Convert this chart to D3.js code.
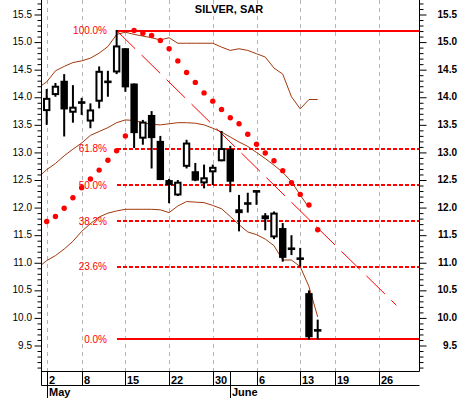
<!DOCTYPE html>
<html><head><meta charset="utf-8">
<script src="https://cdn.jsdelivr.net/npm/d3@7"></script>
<style>body{margin:0;background:#fff}svg{display:block}</style>
</head><body>
<script>
// ---- data ----
const days = ["May 2","May 3","May 4","May 5","May 8","May 9","May 10","May 11","May 12","May 15","May 16","May 17","May 18","May 19","May 22","May 23","May 24","May 25","May 26","May 30","May 31","Jun 1","Jun 2","Jun 5","Jun 6","Jun 7","Jun 8","Jun 9","Jun 12","Jun 13","Jun 14","Jun 15"];
const open  = [13.74,14.03,14.29,13.71,13.90,13.55,13.91,14.27,14.44,14.88,14.24,13.24,13.67,13.20,12.49,12.21,12.73,12.65,12.43,12.63,12.83,13.05,11.96,12.07,12.29,11.78,11.45,11.62,11.25,11.07,10.44,9.77];
const high  = [14.14,14.25,14.41,14.21,13.98,13.88,14.55,14.47,15.21,14.88,14.24,13.58,13.74,13.29,12.51,12.49,13.22,12.80,12.77,12.77,13.38,13.11,12.22,12.26,12.29,11.89,11.92,11.71,11.49,11.26,10.49,9.96];
const low   = [13.49,14.00,13.28,13.53,13.67,13.43,13.79,14.00,14.41,14.09,13.07,13.13,12.70,12.49,12.07,12.20,12.70,12.47,12.34,12.40,12.83,12.27,11.56,11.90,12.04,11.58,11.42,11.01,11.13,10.92,9.60,9.60];
const close = [13.98,14.20,13.77,13.82,13.89,13.77,14.47,14.27,14.93,14.17,13.34,13.55,13.25,12.49,12.40,12.46,13.17,12.48,12.54,12.73,13.07,12.46,11.89,12.06,12.28,11.85,11.90,11.08,11.24,11.06,9.64,9.76];
const sar   = [11.74,11.83,11.98,12.17,12.35,12.51,12.67,12.85,13.02,13.29,15.20,15.15,15.11,15.02,14.87,14.65,14.44,14.26,14.07,13.92,13.77,13.62,13.51,13.32,13.14,12.98,12.84,12.66,12.44,12.23,12.04,11.59];
// Bollinger bands, first value is the session before May 2 (index -1)
const bandUpper  = [14.16,14.27,14.47,14.55,14.62,14.65,14.70,14.79,14.91,15.13,15.17,15.13,15.10,15.07,15.03,15.07,14.97,14.97,14.97,14.97,14.97,14.90,14.84,14.87,14.84,14.78,14.72,14.52,14.41,14.00,13.78,13.95,13.95];
const bandMiddle = [12.53,12.68,12.79,12.93,13.05,13.16,13.30,13.37,13.44,13.53,13.58,13.57,13.53,13.50,13.49,13.51,13.53,13.53,13.52,13.49,13.43,13.36,13.27,13.18,13.10,12.99,12.88,12.76,12.63,12.46,12.22,11.99];
const bandLower  = [10.90,11.03,11.12,11.24,11.38,11.56,11.70,11.82,11.89,11.93,11.96,11.96,11.96,11.96,11.95,11.90,12.02,12.10,12.09,12.08,12.03,11.97,11.83,11.68,11.55,11.50,11.42,11.30,11.04,11.04,10.92,10.56,10.01];
const fibValues = [15.2, 13.06, 12.4, 11.74, 10.92, 9.6];
const fibLabels = ["100.0%","61.8%","50.0%","38.2%","23.6%","0.0%"];
const fibDashed = [false,true,true,true,true,false];
const fibStart = 8;
const trendIdx = [8, 40];
const trendVal = [15.2, 10.22];
const tickIdx = [0,4,9,14,19,24,29,33,38];
const tickLabels = ["2","8","15","22","30","6","13","19","26"];
const monthIdx = [0, 21];
const monthLabels = ["May","June"];
const majorTicks = [9.5,10,10.5,11,11.5,12,12.5,13,13.5,14,14.5,15,15.5];
const majorLabels = ["9.5","10.0","10.5","11.0","11.5","12.0","12.5","13.0","13.5","14.0","14.5","15.0","15.5"];
const title = "SILVER, SAR";

// ---- layout ----
const W = 460, H = 398;
const L = 41.5, R = 419.5, T = 0, B = 371.5, B2 = 385.5;
const RED = "#ff0000", BROWN = "#a0380c";

const x = d3.scaleLinear().domain([0, 31]).range([46.7, 317.7]);
const y = d3.scaleLinear().domain([9.5, 15.5]).range([345, 14]);
const px = v => Math.round(v) + 0.5;

const svg = d3.select("body").append("svg").attr("width", W).attr("height", H)
  .style("font-family", "'Liberation Sans', Arial, sans-serif");

svg.append("defs").append("clipPath").attr("id", "plot")
  .append("rect").attr("x", L).attr("y", T).attr("width", R - L).attr("height", B - T);

// grid
svg.append("g").selectAll("line").data(tickIdx).join("line")
  .attr("x1", d => px(x(d))).attr("x2", d => px(x(d)))
  .attr("y1", T).attr("y2", B)
  .attr("stroke", "#b4b4b4").attr("stroke-dasharray", "4,4");

const plot = svg.append("g").attr("clip-path", "url(#plot)");

// bands
const bandLine = d3.line().x((d, i) => x(i - 1)).y(d => y(d));
[bandUpper, bandMiddle, bandLower].forEach(b => {
  plot.append("path").datum(b).attr("d", bandLine)
    .attr("fill", "none").attr("stroke", BROWN).attr("stroke-width", 1);
});

// fib lines
plot.append("g").selectAll("line").data(fibValues).join("line")
  .attr("x1", x(fibStart)).attr("x2", R)
  .attr("y1", d => Math.round(y(d))).attr("y2", d => Math.round(y(d)))
  .attr("stroke", RED)
  .attr("stroke-width", 2)
  .attr("shape-rendering", "crispEdges")
  .attr("stroke-dasharray", (d, i) => fibDashed[i] ? "4,2" : null);

svg.append("g").selectAll("text").data(fibValues).join("text")
  .attr("x", 107).attr("y", d => y(d) + 3.5)
  .attr("text-anchor", "end").attr("fill", RED)
  .style("font-size", "10px")
  .text((d, i) => fibLabels[i]);

// trend line
plot.append("line")
  .attr("x1", x(trendIdx[0])).attr("y1", y(trendVal[0]))
  .attr("x2", x(trendIdx[1])).attr("y2", y(trendVal[1]))
  .attr("stroke", RED).attr("stroke-width", 1).attr("stroke-dasharray", "26,9");

// SAR dots
plot.append("g").selectAll("circle").data(sar).join("circle")
  .attr("cx", (d, i) => x(i)).attr("cy", d => y(d)).attr("r", 2.7)
  .attr("fill", RED);

// candles
const cg = plot.append("g");
days.forEach((dd, i) => {
  const cx = x(i);
  const g = cg.append("g");
  g.append("rect").attr("x", cx - 1).attr("width", 2)
    .attr("y", y(high[i])).attr("height", Math.max(1, y(low[i]) - y(high[i])))
    .attr("fill", "#000");
  const top = y(Math.max(open[i], close[i])), bot = y(Math.min(open[i], close[i]));
  if (bot - top < 3) {
    g.append("rect").attr("x", cx - 3.7).attr("width", 7.4)
      .attr("y", (top + bot) / 2 - 1.3).attr("height", 2.6).attr("fill", "#000");
  } else if (close[i] > open[i]) {
    g.append("rect").attr("x", cx - 2.7).attr("width", 5.4)
      .attr("y", top + 1).attr("height", bot - top - 2)
      .attr("fill", "#fff").attr("stroke", "#000").attr("stroke-width", 2);
  } else {
    g.append("rect").attr("x", cx - 3.7).attr("width", 7.4)
      .attr("y", top).attr("height", bot - top).attr("fill", "#000");
  }
});

// frame lines
const frame = svg.append("g").attr("stroke", "#000").attr("stroke-width", 1);
frame.append("line").attr("x1", L).attr("x2", L).attr("y1", T).attr("y2", B2);
frame.append("line").attr("x1", R).attr("x2", R).attr("y1", T).attr("y2", B);
frame.append("line").attr("x1", L).attr("x2", R).attr("y1", B).attr("y2", B);
frame.append("line").attr("x1", L).attr("x2", R).attr("y1", B2).attr("y2", B2);

// y axes
const minorTicks = d3.range(91, 158).map(v => v / 10).filter(v => Math.round(v * 10) % 5 !== 0);
function yAxis(axisFn, xPos, size, values) {
  const g = svg.append("g").attr("transform", `translate(${xPos},0.5)`)
    .call(axisFn(y).tickValues(values).tickSize(size).tickFormat(""));
  g.select(".domain").remove();
  return g;
}
yAxis(d3.axisLeft, L, 4, minorTicks);
yAxis(d3.axisRight, R, 4, minorTicks);
yAxis(d3.axisLeft, L, 7, majorTicks);
yAxis(d3.axisRight, R, 7, majorTicks);
svg.selectAll(".tick line").attr("stroke", "#000");

svg.append("g").selectAll("text").data(majorTicks).join("text")
  .attr("x", 32).attr("y", d => y(d) + 3.6).attr("text-anchor", "end")
  .style("font-size", "10px").text((d, i) => majorLabels[i]);
svg.append("g").selectAll("text").data(majorTicks).join("text")
  .attr("x", 457).attr("y", d => y(d) + 3.6).attr("text-anchor", "end")
  .style("font-size", "10px").style("font-weight", "bold").text((d, i) => majorLabels[i]);

// x axis (dates)
const xa = svg.append("g");
xa.selectAll("line").data(tickIdx).join("line")
  .attr("x1", d => px(x(d))).attr("x2", d => px(x(d)))
  .attr("y1", B).attr("y2", B2).attr("stroke", "#000");
xa.selectAll("text").data(tickIdx).join("text")
  .attr("x", d => Math.round(x(d)) + 2).attr("y", 383.5)
  .style("font-size", "11px").style("font-weight", "bold")
  .text((d, i) => tickLabels[i]);
const ma = svg.append("g");
ma.selectAll("line").data(monthIdx).join("line")
  .attr("x1", d => px(x(d))).attr("x2", d => px(x(d)))
  .attr("y1", B).attr("y2", H).attr("stroke", "#000");
ma.selectAll("text").data(monthIdx).join("text")
  .attr("x", d => Math.round(x(d)) + 2).attr("y", 396)
  .style("font-size", "11px").style("font-weight", "bold")
  .text((d, i) => monthLabels[i]);

// title
svg.append("text").attr("x", 229).attr("y", 13).attr("text-anchor", "middle")
  .style("font-size", "11px").style("font-weight", "bold").text(title);
</script>
</body></html>
